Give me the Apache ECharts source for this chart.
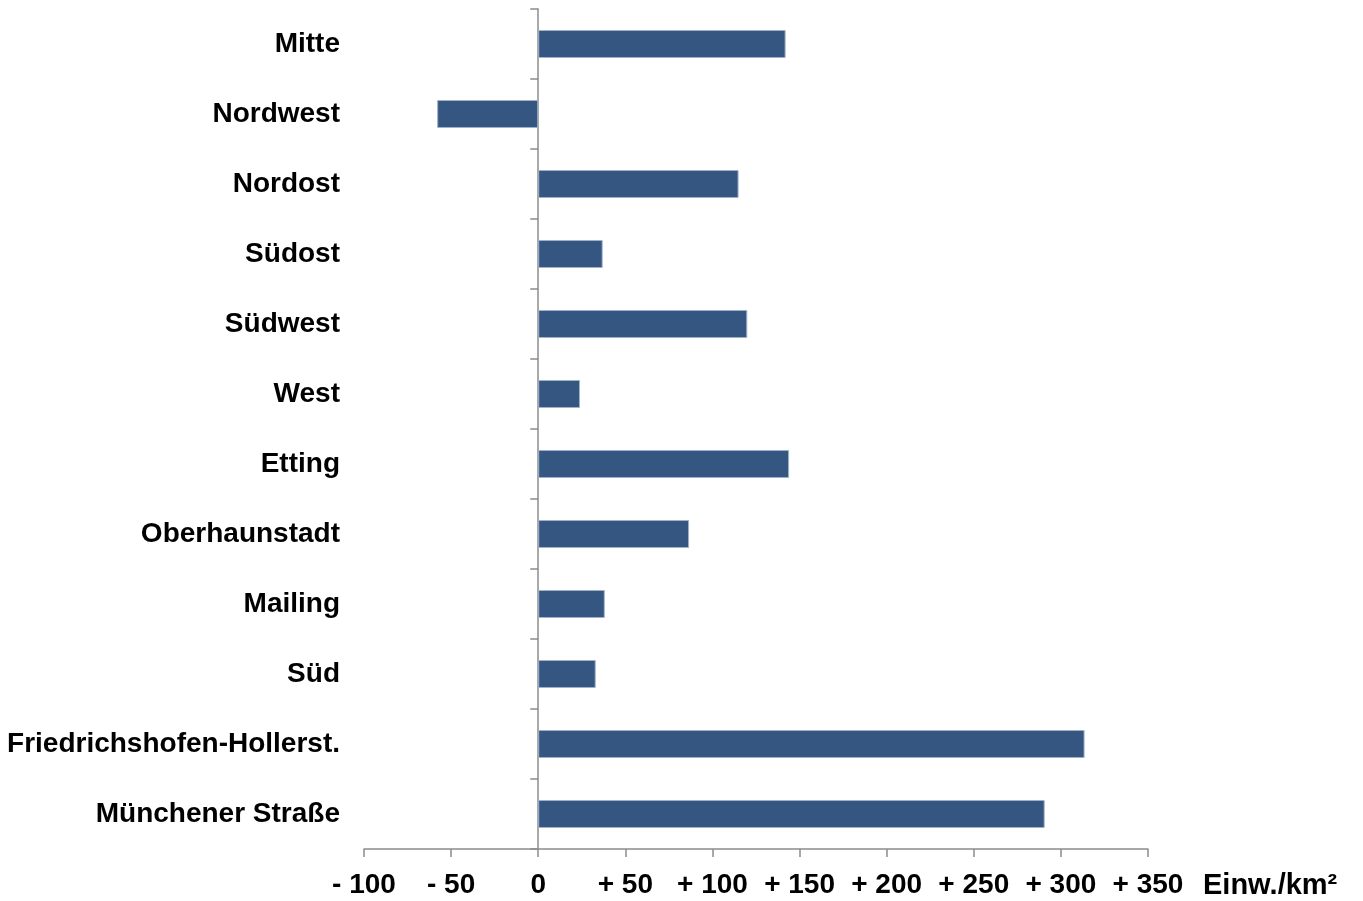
<!DOCTYPE html>
<html>
<head>
<meta charset="utf-8">
<script src="https://cdn.jsdelivr.net/npm/echarts@6/dist/echarts.min.js"></script>
<style>
  html, body { margin: 0; padding: 0; background: #ffffff; }
  #chart { width: 1363px; height: 901px; }
</style>
</head>
<body>
<div id="chart"></div>
<script>
const categories = ['Mitte', 'Nordwest', 'Nordost', 'Südost', 'Südwest', 'West', 'Etting', 'Oberhaunstadt', 'Mailing', 'Süd', 'Friedrichshofen-Hollerst.', 'Münchener Straße'];
const values = [142, -58, 115, 37, 120, 24, 144, 86.6, 38.2, 33, 313.6, 290.7];
const xTickLabels = ['- 100', '- 50', '0', '+ 50', '+ 100', '+ 150', '+ 200', '+ 250', '+ 300', '+ 350'];
const xMin = -100;
const xMax = 350;
const xInterval = 50;
const unitLabel = 'Einw./km²';

const font = "'Liberation Sans', Arial, sans-serif";
const axisGrey = '#8c8c8c';

const chart = echarts.init(document.getElementById('chart'), null, { renderer: 'canvas' });
chart.setOption({
  animation: false,
  backgroundColor: '#ffffff',
  grid: { left: 364, width: 784, top: 9, height: 840, containLabel: false, outerBoundsMode: 'none' },
  xAxis: {
    type: 'value',
    min: xMin,
    max: xMax,
    interval: xInterval,
    splitLine: { show: false },
    axisLine: { show: true, lineStyle: { color: axisGrey, width: 1.5 } },
    axisTick: { show: true, length: 8, lineStyle: { color: axisGrey, width: 1.5 } },
    axisLabel: {
      margin: 22,
      color: '#000000',
      fontFamily: font,
      fontWeight: 'bold',
      fontSize: 28,
      hideOverlap: false,
      formatter: function (v, i) { return xTickLabels[i]; }
    },
    name: unitLabel,
    nameLocation: 'end',
    nameGap: 55,
    nameTextStyle: {
      color: '#000000',
      fontFamily: font,
      fontWeight: 'bold',
      fontSize: 29,
      align: 'left',
      verticalAlign: 'top',
      padding: [22, 0, 0, 0]
    }
  },
  yAxis: {
    type: 'category',
    data: categories,
    inverse: true,
    axisLine: { show: true, onZero: true, lineStyle: { color: axisGrey, width: 1.5 } },
    axisTick: { show: true, length: 8, lineStyle: { color: axisGrey, width: 1.5 } },
    axisLabel: {
      margin: 24,
      color: '#000000',
      fontFamily: font,
      fontWeight: 'bold',
      fontSize: 28,
      padding: [4, 0, 0, 0]
    },
    splitLine: { show: false }
  },
  series: [{
    type: 'bar',
    data: values,
    barWidth: 28,
    itemStyle: { color: '#355680', borderColor: '#9fb2cc', borderWidth: 1 }
  }]
});
</script>
</body>
</html>
